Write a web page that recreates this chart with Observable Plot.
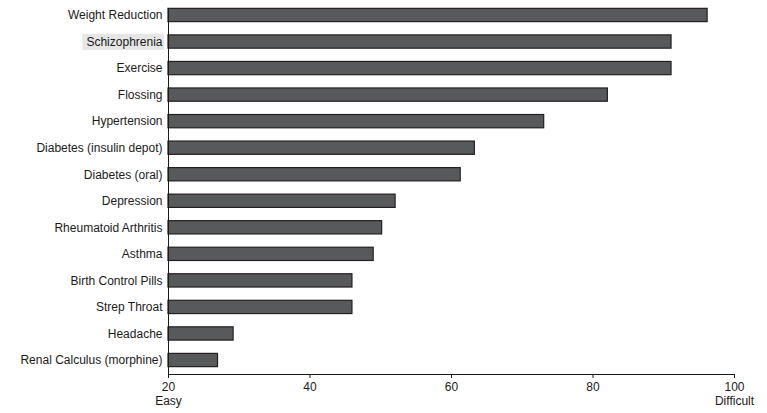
<!DOCTYPE html>
<html>
<head>
<meta charset="utf-8">
<script src="https://cdn.jsdelivr.net/npm/d3@7"></script>
<script src="https://cdn.jsdelivr.net/npm/@observablehq/plot@0.6"></script>
<style>
  html, body { margin: 0; padding: 0; background: #fff; }
  #chart { width: 767px; height: 413px; }
</style>
</head>
<body>
<div id="chart"></div>
<script>
const conditions = [
  "Weight Reduction", "Schizophrenia", "Exercise", "Flossing", "Hypertension",
  "Diabetes (insulin depot)", "Diabetes (oral)", "Depression", "Rheumatoid Arthritis",
  "Asthma", "Birth Control Pills", "Strep Throat", "Headache", "Renal Calculus (morphine)"
];
const difficulty = [96.2, 91.1, 91.1, 82.1, 73.1, 63.3, 61.3, 52.1, 50.2, 49.0, 46.0, 46.0, 29.2, 27.0];
const xTicks = [20, 40, 60, 80, 100];
const xTickLabels = {20: "20\nEasy", 40: "40", 60: "60", 80: "80", 100: "100\nDifficult"};
const highlighted = "Schizophrenia";

const data = conditions.map((c, i) => ({condition: c, value: difficulty[i]}));

const plot = Plot.plot({
  width: 767,
  height: 413,
  marginTop: 1,
  marginBottom: 39,
  marginLeft: 168,
  marginRight: 33,
  style: {fontFamily: "'Liberation Sans', Arial, sans-serif", fontSize: "12px", color: "#1a1a1a", background: "#fff"},
  x: {domain: [20, 100], ticks: xTicks, label: null},
  y: {domain: conditions, paddingInner: 0.5, paddingOuter: 0.277, round: false, label: null},
  marks: [
    Plot.barX(data, {x1: 20, x2: "value", y: "condition", fill: "#58595b", stroke: "#231f20", strokeWidth: 1.2}),
    Plot.frame({anchor: "left", insetTop: 7, stroke: "#1a1a1a"}),
    Plot.frame({anchor: "bottom", stroke: "#1a1a1a"}),
    Plot.axisX({ticks: xTicks, tickSize: 4, tickPadding: 3, tickFormat: d => xTickLabels[d], fontSize: 12, lineHeight: 1.15}),
    Plot.axisY({tickSize: 0, tickPadding: 6, fontSize: 12})
  ]
});
document.getElementById("chart").appendChild(plot);

// light highlight behind one category label
d3.select(plot).selectAll("g[aria-label='y-axis tick label'] text").each(function() {
  if (this.textContent === highlighted) {
    const bb = this.getBBox();
    d3.select(this.parentNode).insert("rect", () => this)
      .attr("x", bb.x - 4).attr("y", bb.y - 1)
      .attr("width", bb.width + 5).attr("height", bb.height + 2)
      .attr("fill", "#e6e6e6")
      .attr("transform", this.getAttribute("transform"));
  }
});
</script>
</body>
</html>
